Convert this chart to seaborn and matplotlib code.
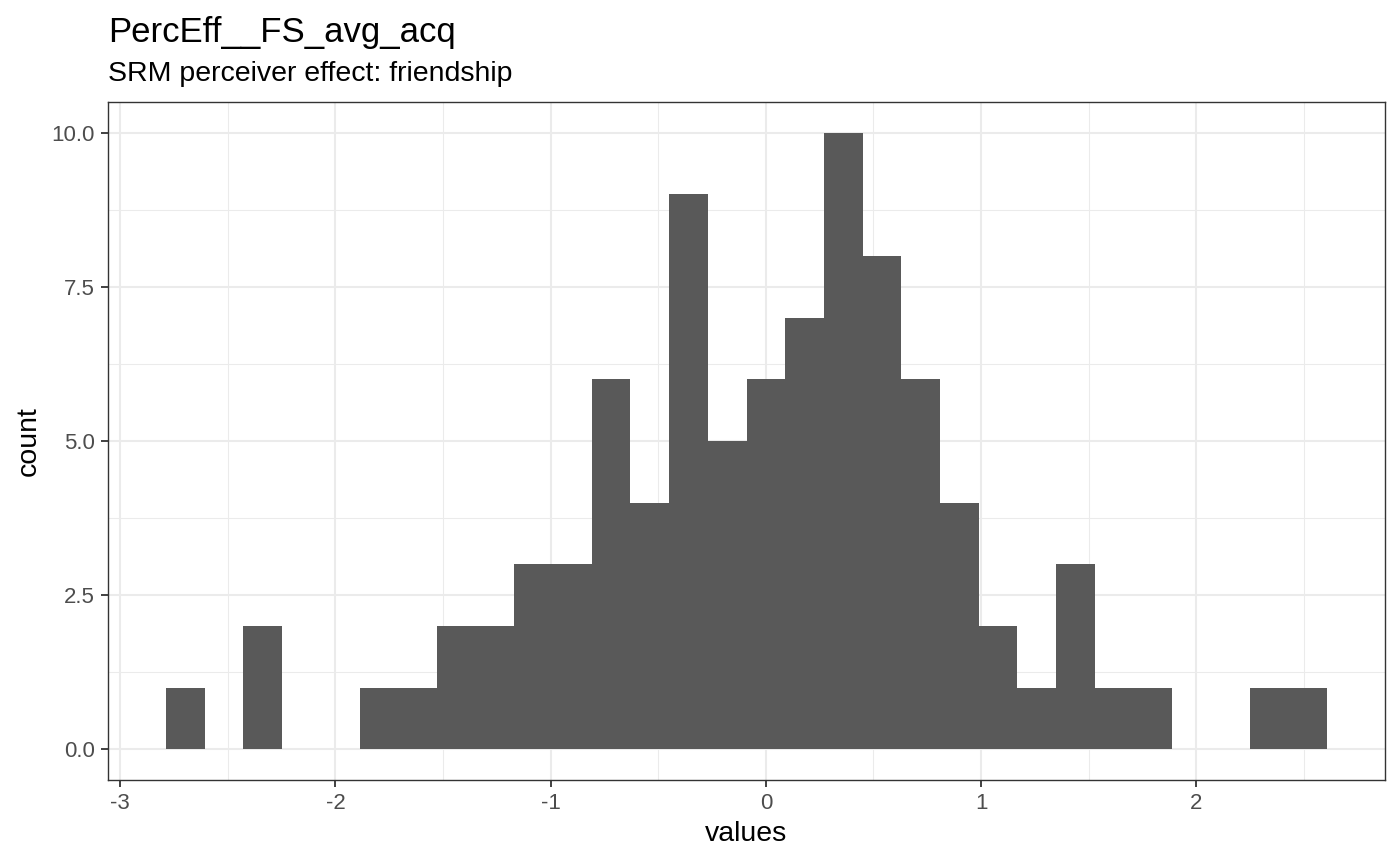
import numpy as np
import pandas as pd
import matplotlib
matplotlib.use("Agg")
import matplotlib.pyplot as plt
import seaborn as sns

# data (30 bins)
bin_min = -2.787
bin_max = 2.607
counts = [1, 0, 2, 0, 0, 1, 1, 2, 2, 3,
          3, 6, 4, 9, 5, 6, 7, 10, 8, 6,
          4, 2, 1, 3, 1, 1, 0, 0, 1, 1]
x_ticks = [-3, -2, -1, 0, 1, 2]
x_tick_labels = ["-3", "-2", "-1", "0", "1", "2"]
y_ticks = [0, 2.5, 5, 7.5, 10]
y_tick_labels = ["0.0", "2.5", "5.0", "7.5", "10.0"]
title = "PercEff__FS_avg_acq"
subtitle = "SRM perceiver effect: friendship"

sns.set_theme(style="white")
plt.rcParams["font.family"] = ["Liberation Sans", "DejaVu Sans"]

n_bins = len(counts)
edges = np.linspace(bin_min, bin_max, n_bins + 1)
centers = (edges[:-1] + edges[1:]) / 2
df = pd.DataFrame({"values": centers, "count": counts})

fig = plt.figure(figsize=(14, 8.65), dpi=100)
ax = fig.add_axes([108 / 1400, 1 - 780 / 865, (1385 - 108) / 1400, (780 - 102) / 865])

sns.histplot(data=df, x="values", weights="count", bins=n_bins,
             binrange=(bin_min, bin_max), ax=ax,
             color="#595959", alpha=1, edgecolor="none", linewidth=0, zorder=3)

rng = bin_max - bin_min
ax.set_xlim(bin_min - 0.05 * rng, bin_max + 0.05 * rng)
ax.set_ylim(-0.5, 10.5)

ax.set_xticks(x_ticks)
ax.set_xticklabels(x_tick_labels)
ax.set_yticks(y_ticks)
ax.set_yticklabels(y_tick_labels)
ax.set_xticks([-2.5, -1.5, -0.5, 0.5, 1.5, 2.5], minor=True)
ax.set_yticks([1.25, 3.75, 6.25, 8.75], minor=True)

ax.grid(True, which="major", color="#EBEBEB", linewidth=1.5, zorder=0)
ax.grid(True, which="minor", color="#EBEBEB", linewidth=0.75, zorder=0)
ax.set_axisbelow(True)

ax.tick_params(axis="both", which="major", length=5, width=1.3, color="#333333",
               labelcolor="#4D4D4D", labelsize=16, pad=4.5, bottom=True, left=True)
ax.tick_params(axis="both", which="minor", length=0)

for s in ax.spines.values():
    s.set_color("#333333")
    s.set_linewidth(1.0)
    s.set_visible(True)

ax.set_xlabel("values", fontsize=20.5, color="black", labelpad=5)
ax.set_ylabel("count", fontsize=20.5, color="black", labelpad=7)

fig.text(108 / 1400, 1 - 42 / 865, title, fontsize=25, color="black", ha="left", va="baseline")
fig.text(108 / 1400, 1 - 81 / 865, subtitle, fontsize=20.5, color="black", ha="left", va="baseline")

fig.savefig("out.png", dpi=100)
